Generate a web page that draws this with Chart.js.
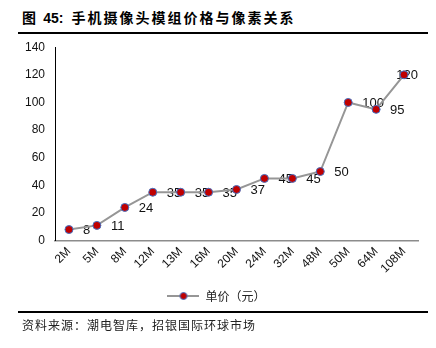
<!DOCTYPE html>
<html>
<head>
  <meta charset="utf-8">
  <script src="https://cdn.jsdelivr.net/npm/chart.js"></script>
  <style>
    body {
      margin: 0;
      background-color: #ffffff;
      width: 436px;
      height: 348px;
      position: relative;
      overflow: hidden;
    }
    #titulo {
      position: absolute;
      left: 22px;
      top: 8px;
      font-family: "Noto Sans CJK SC", "Liberation Sans", sans-serif;
      font-weight: bold;
      font-size: 14px;
      letter-spacing: 2px;
      line-height: 18px;
      color: #000;
    }
    #titulo b {
      font-family: "Liberation Sans", Arial, sans-serif;
      letter-spacing: 0;
      margin-right: 3px;
    }
    .regua {
      position: absolute;
      left: 18px;
      width: 410px;
      height: 2px;
      background: #000;
    }
    #fonte {
      position: absolute;
      left: 22px;
      top: 317px;
      font-family: "Noto Sans CJK SC", sans-serif;
      font-size: 12px;
      letter-spacing: 1px;
      line-height: 16px;
      color: #222;
    }
    #caixa {
      position: absolute;
      left: 0;
      top: 30px;
      width: 436px;
      height: 282px;
    }
  </style>
</head>
<body>
  <div id="titulo">图 <b>45:</b> 手机摄像头模组价格与像素关系</div>
  <div class="regua" style="top:32px"></div>
  <div id="caixa"><canvas id="grafico"></canvas></div>
  <div class="regua" style="top:311px"></div>
  <div id="fonte">资料来源：潮电智库，招银国际环球市场</div>

  <script>
    var pixels = ["2M", "5M", "8M", "12M", "13M", "16M", "20M", "24M", "32M", "48M", "50M", "64M", "108M"];
    var precos = [8, 11, 24, 35, 35, 35, 37, 45, 45, 50, 100, 95, 120];
    var yTicks = [0, 20, 40, 60, 80, 100, 120, 140];

    // amostra da legenda: linha cinza com marcador
    var amostra = document.createElement("canvas");
    amostra.width = 32;
    amostra.height = 10;
    var a = amostra.getContext("2d");
    a.strokeStyle = "#969696";
    a.lineWidth = 2;
    a.beginPath();
    a.moveTo(0, 5);
    a.lineTo(32, 5);
    a.stroke();
    a.beginPath();
    a.arc(16, 5, 3.5, 0, Math.PI * 2);
    a.fillStyle = "#C00000";
    a.fill();
    a.strokeStyle = "#4472C4";
    a.lineWidth = 1;
    a.stroke();

    // rótulos de valor, desenhados por baixo da linha e dos marcadores
    var rotulos = {
      id: "rotulos",
      beforeDatasetsDraw: function (chart) {
        var ctx = chart.ctx;
        var meta = chart.getDatasetMeta(0);
        ctx.save();
        ctx.font = "13px 'Liberation Sans', Arial, sans-serif";
        ctx.fillStyle = "#111";
        ctx.textAlign = "left";
        ctx.textBaseline = "middle";
        meta.data.forEach(function (p, i) {
          var txt = String(precos[i]);
          var w = ctx.measureText(txt).width;
          var x = p.x + 14;
          if (x + w > chart.width - 18) x = chart.width - 18 - w;
          ctx.fillText(txt, x, p.y + 1);
        });
        ctx.restore();
      }
    };

    var ctx = document.getElementById("grafico").getContext("2d");
    var chart = new Chart(ctx, {
      type: "line",
      data: {
        labels: pixels,
        datasets: [{
          label: "单价（元）",
          data: precos,
          borderColor: "#969696",
          borderWidth: 2,
          pointRadius: 4,
          pointHoverRadius: 4,
          pointBackgroundColor: "#C00000",
          pointBorderColor: "#4472C4",
          pointBorderWidth: 1,
          tension: 0
        }]
      },
      options: {
        responsive: true,
        maintainAspectRatio: false,
        animation: false,
        layout: { padding: { top: 0, left: 15, right: 18, bottom: 0 } },
        plugins: {
          tooltip: { enabled: false },
          legend: {
            position: "bottom",
            labels: {
              usePointStyle: true,
              pointStyleWidth: 32,
              color: "#222",
              font: { family: "'Noto Sans CJK SC', sans-serif", size: 12 },
              padding: 10,
              generateLabels: function (c) {
                return Chart.defaults.plugins.legend.labels.generateLabels(c).map(function (l) {
                  l.pointStyle = amostra;
                  return l;
                });
              }
            }
          }
        },
        scales: {
          x: {
            offset: true,
            grid: { display: false, drawTicks: false },
            border: { display: true, color: "#8c8c8c", width: 1.5 },
            ticks: {
              minRotation: 45,
              maxRotation: 45,
              padding: 4,
              color: "#111",
              font: { family: "'Liberation Sans', Arial, sans-serif", size: 12 }
            }
          },
          y: {
            min: 0,
            max: 140,
            afterBuildTicks: function (axis) {
              axis.ticks = yTicks.map(function (v) { return { value: v }; });
            },
            grid: { display: false, drawTicks: false },
            border: { display: true, color: "#000", width: 1 },
            ticks: {
              padding: 10,
              color: "#111",
              font: { family: "'Liberation Sans', Arial, sans-serif", size: 12 }
            }
          }
        }
      },
      plugins: [rotulos]
    });
  </script>
</body>
</html>
